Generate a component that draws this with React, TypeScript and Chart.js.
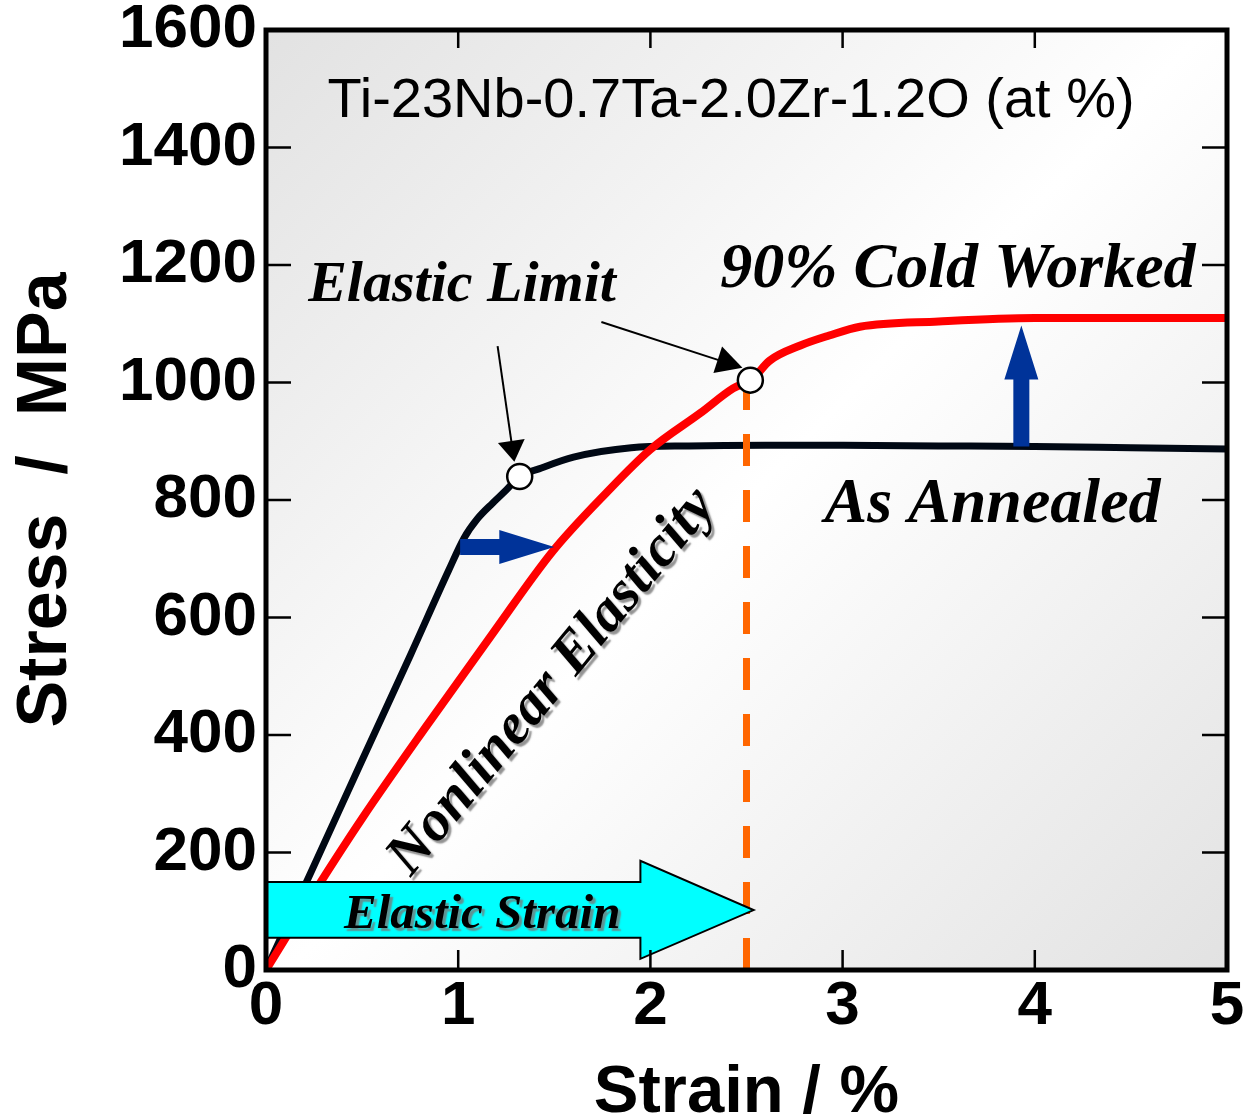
import { useEffect, useRef } from "react";
import { Chart, registerables } from "chart.js";

Chart.register(...registerables);

// Stress–strain curves of Ti-23Nb-0.7Ta-2.0Zr-1.2O (at %)
const annealedStrain = [0, 0.25, 0.5, 0.75, 0.95, 1.03, 1.1, 1.18, 1.25, 1.32, 1.42, 1.6, 1.9, 2.2, 2.6, 3.0, 3.5, 4.0, 4.5, 5.0];
const annealedStress = [0, 178, 357, 535, 680, 735, 768, 795, 817, 840, 853, 873, 889, 892, 893, 893, 892, 891, 889, 887];

const coldStrain = [0, 0.25, 0.5, 0.83, 1.18, 1.49, 1.77, 2.0, 2.26, 2.43, 2.53, 2.62, 2.78, 2.93, 3.09, 3.5, 4.0, 4.5, 5.0];
const coldStress = [0, 132, 258, 413, 573, 712, 812, 886, 948, 990, 1006, 1037, 1063, 1080, 1095, 1104, 1110, 1110, 1110];

// elastic limits of the two conditions
const limitStrain = [1.32, 2.52];
const limitStress = [840, 1004];

// elastic strain reached by the cold-worked alloy
const elasticStrainLimit = 2.5;
const elasticStrainStress = [0, 1004];

const strainTicks = [0, 1, 2, 3, 4, 5];
const stressTicks = [0, 200, 400, 600, 800, 1000, 1200, 1400, 1600];

const SANS = "'Liberation Sans', Arial, Helvetica, sans-serif";
const SERIF = "'Liberation Serif', 'Times New Roman', Times, serif";

const toPoints = (xs: number[], ys: number[]) => xs.map((x, i) => ({ x, y: ys[i] }));

type Pt = [number, number];

function blockArrow(ctx: CanvasRenderingContext2D, from: Pt, to: Pt, shaft: number, headLen: number, headWidth: number, fill: string) {
  const dx = to[0] - from[0];
  const dy = to[1] - from[1];
  const len = Math.hypot(dx, dy);
  const ang = Math.atan2(dy, dx);
  ctx.save();
  ctx.translate(from[0], from[1]);
  ctx.rotate(ang);
  ctx.fillStyle = fill;
  ctx.beginPath();
  ctx.moveTo(0, -shaft / 2);
  ctx.lineTo(len - headLen, -shaft / 2);
  ctx.lineTo(len - headLen, -headWidth / 2);
  ctx.lineTo(len, 0);
  ctx.lineTo(len - headLen, headWidth / 2);
  ctx.lineTo(len - headLen, shaft / 2);
  ctx.lineTo(0, shaft / 2);
  ctx.closePath();
  ctx.fill();
  ctx.restore();
}

function pointer(ctx: CanvasRenderingContext2D, from: Pt, to: Pt, headLen: number, headWidth: number) {
  const dx = to[0] - from[0];
  const dy = to[1] - from[1];
  const len = Math.hypot(dx, dy);
  const ang = Math.atan2(dy, dx);
  ctx.save();
  ctx.translate(from[0], from[1]);
  ctx.rotate(ang);
  ctx.strokeStyle = "#000";
  ctx.fillStyle = "#000";
  ctx.lineWidth = 2;
  ctx.beginPath();
  ctx.moveTo(0, 0);
  ctx.lineTo(len - headLen + 1, 0);
  ctx.stroke();
  ctx.beginPath();
  ctx.moveTo(len, 0);
  ctx.lineTo(len - headLen, -headWidth / 2);
  ctx.lineTo(len - headLen, headWidth / 2);
  ctx.closePath();
  ctx.fill();
  ctx.restore();
}

function label(
  ctx: CanvasRenderingContext2D,
  text: string,
  x: number,
  y: number,
  font: string,
  rotate = 0,
  shadow = false
) {
  ctx.save();
  ctx.translate(x, y);
  if (rotate) ctx.rotate(rotate);
  ctx.font = font;
  ctx.textAlign = "center";
  ctx.textBaseline = "alphabetic";
  if (shadow) {
    ctx.shadowColor = "rgba(120,120,120,0.8)";
    ctx.shadowOffsetX = 3;
    ctx.shadowOffsetY = 3;
    ctx.shadowBlur = 1.5;
  }
  ctx.fillStyle = "#000";
  ctx.fillText(text, 0, 0);
  ctx.restore();
}

const decorations = {
  id: "decorations",
  beforeDatasetsDraw(chart: any) {
    const { ctx, chartArea: a } = chart;
    const g = ctx.createLinearGradient(a.left, a.top, a.right, a.bottom);
    g.addColorStop(0, "#e2e2e2");
    g.addColorStop(0.5, "#ffffff");
    g.addColorStop(1, "#e2e2e2");
    ctx.save();
    ctx.fillStyle = g;
    ctx.fillRect(a.left, a.top, a.right - a.left, a.bottom - a.top);
    ctx.restore();
  },
  afterDatasetsDraw(chart: any) {
    const { ctx } = chart;
    const xs = chart.scales.x;
    const ys = chart.scales.y;
    const P = (x: number, y: number): Pt => [xs.getPixelForValue(x), ys.getPixelForValue(y)];

    // elastic strain arrow along the strain axis
    const body = [
      P(0, 150), P(1.948, 150), P(1.948, 186), P(2.537, 102),
      P(1.948, 19), P(1.948, 55), P(0, 55),
    ];
    ctx.save();
    ctx.beginPath();
    body.forEach(([x, y], i) => (i ? ctx.lineTo(x, y) : ctx.moveTo(x, y)));
    ctx.closePath();
    ctx.fillStyle = "#00ffff";
    ctx.fill();
    ctx.lineWidth = 2;
    ctx.strokeStyle = "#000";
    ctx.stroke();
    ctx.restore();

    // shift of the curve by cold working
    blockArrow(ctx, P(1.01, 720), P(1.5, 720), 16, 55, 34, "#003399");
    blockArrow(ctx, P(3.93, 891), P(3.93, 1097), 16, 54, 34, "#003399");

    // pointers to the elastic limits
    pointer(ctx, P(1.205, 1062), P(1.292, 865), 21, 27);
    pointer(ctx, P(1.745, 1103), P(2.479, 1025), 26, 28);

    const bi = (s: number) => `italic bold ${s}px ${SERIF}`;
    const [tx, ty] = P(2.42, 1452);
    label(ctx, "Ti-23Nb-0.7Ta-2.0Zr-1.2O (at %)", tx, ty, `56px ${SANS}`);
    const [ex, ey] = P(1.02, 1138);
    label(ctx, "Elastic Limit", ex, ey, bi(58));
    const [cx, cy] = P(3.6, 1163);
    label(ctx, "90% Cold Worked", cx, cy, bi(64));
    const [ax, ay] = P(3.78, 762);
    label(ctx, "As Annealed", ax, ay, bi(64));
    const [sx, sy] = P(1.125, 72);
    label(ctx, "Elastic Strain", sx, sy, bi(49), 0, true);
    const [nx, ny] = P(1.55, 474);
    label(ctx, "Nonlinear Elasticity", nx, ny, bi(58), (-50.5 * Math.PI) / 180, true);
  },
  afterDraw(chart: any) {
    const { ctx, chartArea: a } = chart;
    const xs = chart.scales.x;
    const ys = chart.scales.y;
    ctx.save();
    ctx.strokeStyle = "#000";
    ctx.lineWidth = 2.5;
    ctx.beginPath();
    for (const v of stressTicks) {
      if (v <= ys.min || v >= ys.max) continue;
      const y = ys.getPixelForValue(v);
      ctx.moveTo(a.left, y);
      ctx.lineTo(a.left + 25, y);
      ctx.moveTo(a.right, y);
      ctx.lineTo(a.right - 25, y);
    }
    for (const v of strainTicks) {
      if (v <= xs.min || v >= xs.max) continue;
      const x = xs.getPixelForValue(v);
      ctx.moveTo(x, a.bottom);
      ctx.lineTo(x, a.bottom - 20);
      ctx.moveTo(x, a.top);
      ctx.lineTo(x, a.top + 18);
    }
    ctx.stroke();
    ctx.lineWidth = 5;
    ctx.strokeRect(a.left, a.top, a.right - a.left, a.bottom - a.top);
    ctx.restore();
  },
};

export default function App() {
  const canvasRef = useRef<HTMLCanvasElement | null>(null);

  useEffect(() => {
    const canvas = canvasRef.current;
    if (!canvas) return;
    const tickFont = { family: SANS, size: 62, weight: "bold" as const, lineHeight: 1 };
    const xTitleFont = { family: SANS, size: 67, weight: "bold" as const, lineHeight: 1 };
    const yTitleFont = { family: SANS, size: 70, weight: "bold" as const, lineHeight: 1 };
    const plain = (v: number | string) => String(v);

    const chart = new Chart(canvas, {
      type: "scatter",
      data: {
        datasets: [
          {
            label: "Elastic limit",
            data: toPoints(limitStrain, limitStress),
            pointRadius: 12.5,
            pointBackgroundColor: "#ffffff",
            pointBorderColor: "#000000",
            pointBorderWidth: 2.5,
            showLine: false,
            order: 0,
          },
          {
            label: "Elastic strain",
            data: elasticStrainStress.map((y) => ({ x: elasticStrainLimit, y })),
            showLine: true,
            borderColor: "#ff6600",
            borderWidth: 7,
            borderDash: [32, 24],
            pointRadius: 0,
            order: 1,
          },
          {
            label: "90% Cold Worked",
            data: toPoints(coldStrain, coldStress),
            showLine: true,
            borderColor: "#ff0000",
            borderWidth: 8,
            pointRadius: 0,
            cubicInterpolationMode: "monotone",
            order: 2,
          },
          {
            label: "As Annealed",
            data: toPoints(annealedStrain, annealedStress),
            showLine: true,
            borderColor: "#000814",
            borderWidth: 7,
            pointRadius: 0,
            cubicInterpolationMode: "monotone",
            order: 3,
          },
        ],
      },
      options: {
        responsive: false,
        devicePixelRatio: 1,
        animation: false,
        events: [],
        layout: { padding: { top: 30, right: 21, left: 0, bottom: 0 } },
        plugins: { legend: { display: false }, tooltip: { enabled: false } },
        scales: {
          x: {
            type: "linear",
            min: 0,
            max: 5,
            afterBuildTicks: (s: any) => {
              s.ticks = strainTicks.map((value) => ({ value }));
            },
            afterFit: (s: any) => {
              s.height = 150;
              s.paddingLeft = 0;
              s.paddingRight = 0;
            },
            ticks: { font: tickFont, color: "#000", padding: 6, maxRotation: 0, autoSkip: false, callback: plain },
            grid: { display: false, drawTicks: false },
            border: { display: false },
            title: { display: true, text: "Strain / %", font: xTitleFont, color: "#000", padding: { top: 0, bottom: -7 } },
          },
          y: {
            type: "linear",
            min: 0,
            max: 1600,
            afterBuildTicks: (s: any) => {
              s.ticks = stressTicks.map((value) => ({ value }));
            },
            afterFit: (s: any) => {
              s.width = 266;
              s.paddingTop = 0;
              s.paddingBottom = 0;
            },
            ticks: { font: tickFont, color: "#000", padding: 9, autoSkip: false, callback: plain },
            grid: { display: false, drawTicks: false },
            border: { display: false },
            title: { display: true, text: "Stress  /  MPa", font: yTitleFont, color: "#000", padding: { top: 12, bottom: 0 } },
          },
        },
      },
      plugins: [decorations],
    });

    return () => chart.destroy();
  }, []);

  return (
    <div style={{ position: "absolute", left: 0, top: 0, width: 1248, height: 1120, background: "#fff" }}>
      <canvas ref={canvasRef} width={1248} height={1120} style={{ display: "block" }} />
    </div>
  );
}
